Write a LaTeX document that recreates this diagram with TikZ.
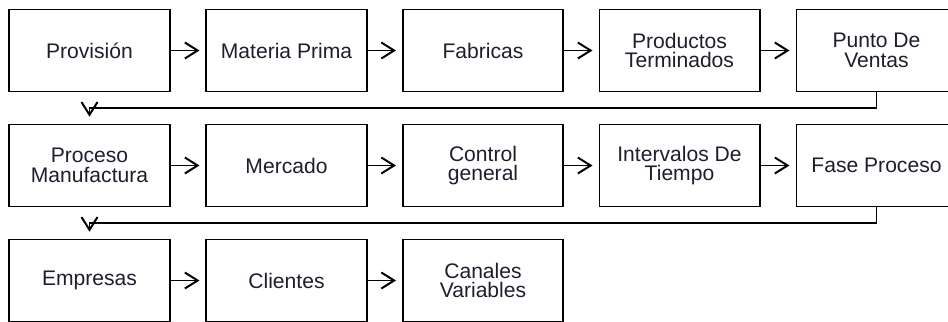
\documentclass[tikz,border=0pt]{standalone}
\usepackage{fontspec}
\setmainfont{Liberation Sans}
\usepackage{tikz}
\usetikzlibrary{arrows.meta}

\definecolor{texto}{HTML}{1E1E2C}

\begin{document}
\begin{tikzpicture}[x=0.025cm, y=-0.025cm,
	caja/.style={shape=rectangle, draw=black, line width=1.4pt,
		minimum width=4.0cm, minimum height=2.05cm, align=center,
		text=texto, font=\fontsize{15}{14}\selectfont},
	flecha/.style={-{Straight Barb[length=3.2mm,width=4mm]}, line width=1.4pt}]
	
	\useasboundingbox (0,0) rectangle (948,322);
	
	\node[caja] (prov)    at (89.5, 50.5)  {Provisión};
	\node[caja] (materia) at (286.5, 50.5) {Materia Prima};
	\node[caja] (fabr)    at (483, 50.5)   {Fabricas};
	\node[caja] (prod)    at (679.5, 50.5) {Productos\\Terminados};
	\node[caja] (punto)   at (876.5, 50.5) {Punto De\\Ventas};
	
	\node[caja] (proc)    at (89.5, 165.5)  {Proceso\\Manufactura};
	\node[caja] (merc)    at (286.5, 165.5) {Mercado};
	\node[caja] (ctrl)    at (483, 165.5)   {Control\\general};
	\node[caja] (interv)  at (679.5, 165.5) {Intervalos De\\Tiempo};
	\node[caja] (fase)    at (876.5, 165.5) {Fase Proceso};
	
	\node[caja] (empr)    at (89.5, 280.5)  {Empresas};
	\node[caja] (clien)   at (286.5, 280.5) {Clientes};
	\node[caja] (canal)   at (483, 280.5)   {Canales\\Variables};
	
	\coordinate (giro1) at (89.5, 108);
	\coordinate (giro2) at (89.5, 223);
	
	\path[flecha, shorten >=0.15cm] (prov) edge (materia);
	\path[flecha, shorten >=0.15cm] (materia) edge (fabr);
	\path[flecha, shorten >=0.15cm] (fabr) edge (prod);
	\path[flecha, shorten >=0.15cm] (prod) edge (punto);
	
	\path[flecha, shorten >=0.15cm] (proc) edge (merc);
	\path[flecha, shorten >=0.15cm] (merc) edge (ctrl);
	\path[flecha, shorten >=0.15cm] (ctrl) edge (interv);
	\path[flecha, shorten >=0.15cm] (interv) edge (fase);
	
	\path[flecha, shorten >=0.15cm] (empr) edge (clien);
	\path[flecha, shorten >=0.15cm] (clien) edge (canal);
	
	\draw[flecha, shorten >=0.17cm] (punto.south) |- (giro1) -- (proc.north);
	\draw[flecha, shorten >=0.17cm] (fase.south) |- (giro2) -- (empr.north);
	
\end{tikzpicture}
\end{document}
